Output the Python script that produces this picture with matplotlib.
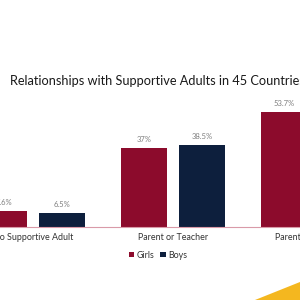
import numpy as np
import matplotlib
matplotlib.use("Agg")
import matplotlib.pyplot as plt
from matplotlib.patches import Polygon

categories = ["No Supportive Adult", "Parent or Teacher", "Parent and Teacher"]
girls = [7.6, 37.0, 53.7]
boys = [6.5, 38.5, 55.0]
girls_labels = ["7.6%", "37%", "53.7%"]
boys_labels = ["6.5%", "38.5%", "55%"]

girl_color = "#8c0b2c"
boy_color = "#0d1f3d"

plt.rcParams['font.family'] = ['Lato', 'DejaVu Sans']

fig = plt.figure(figsize=(3, 3), dpi=100)
fig.patch.set_facecolor("white")

# the chart is wider than the picture, so the axes runs off both edges
ax = fig.add_axes([-37 / 300, 1 - 227 / 300, 420 / 300, 128.4 / 300])
x = np.arange(len(categories))
w = 0.329
off = 0.207
b1 = ax.bar(x - off, girls, w, color=girl_color, label="Girls")
b2 = ax.bar(x + off, boys, w, color=boy_color, label="Boys")

for bars, labs in [(b1, girls_labels), (b2, boys_labels)]:
    for bar, lab in zip(bars, labs):
        ax.text(bar.get_x() + bar.get_width() / 2, bar.get_height() + 2.2, lab,
                ha="center", va="bottom", fontsize=5.5, color="#7f7f7f")

ax.set_xlim(-0.5, 2.5)
ax.set_ylim(0, 60)
ax.set_yticks([])
ax.set_xticks(x)
ax.set_xticklabels(categories, fontsize=6.4, color="#333333")
ax.tick_params(axis="x", length=0, pad=4)
for s in ["top", "left", "right"]:
    ax.spines[s].set_visible(False)
ax.spines["bottom"].set_color("#d99aa8")
ax.spines["bottom"].set_linewidth(0.8)

fig.text(10 / 300, 1 - 81 / 300, "Relationships with Supportive Adults in 45 Countries",
         fontsize=9.2, color="#1a1a1a", ha="left", va="center")

fig.legend(handles=[b1, b2], labels=["Girls", "Boys"], loc="center",
           bbox_to_anchor=(158 / 300, 1 - 255 / 300), ncol=2, frameon=False,
           fontsize=6.4, handlelength=0.6, handleheight=0.6, handletextpad=0.3,
           columnspacing=0.7, labelcolor="#333333")

fig.patches.append(Polygon([[255 / 300, 0], [1, 18 / 300], [1, 0]], closed=True,
                           transform=fig.transFigure, facecolor="#f4b71f",
                           edgecolor="none"))

fig.savefig("out.png", dpi=100)
